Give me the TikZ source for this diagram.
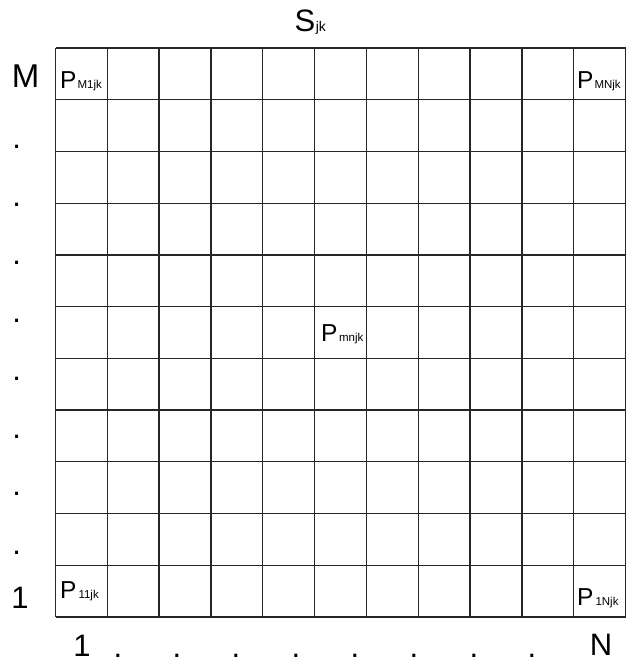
\documentclass[tikz,border=0pt]{standalone}
\usepackage{fontspec}
\setmainfont{Liberation Sans}
\begin{document}
\begin{tikzpicture}[x=1pt,y=-1pt,
  gridline/.style={line width=1.3pt,draw=black!85},
  biglab/.style={inner sep=0pt,anchor=base,font=\fontsize{31}{36}\selectfont},
  dotlab/.style={inner sep=0pt,anchor=base,font=\fontsize{31}{36}\selectfont},
  plab/.style={inner sep=0pt,anchor=base west,font=\fontsize{24.5}{28}\selectfont}]
\useasboundingbox (0,0) rectangle (634,662);
\newcommand{\subtxt}[1]{{\fontsize{11.5}{13}\selectfont #1}}
% grid
\foreach \i in {0,...,11}{
  \draw[gridline] ({55.5+\i*51.82},48) -- ({55.5+\i*51.82},617);
  \draw[gridline] (55.5,{48+\i*51.73}) -- (625.5,{48+\i*51.73});
}
% title
\node[inner sep=0pt,anchor=base west,font=\fontsize{31}{36}\selectfont] (S) at (294.5,31.7) {S\kern0.5pt{\fontsize{14}{16}\selectfont jk}};
% left labels
\node[biglab,font=\fontsize{33}{38}\selectfont] (M) at (25.7,87.3) {M};
\node[biglab] (one) at (20,608.3) {1};
\foreach \y [count=\k] in {148,206,264,322,380,438,495,554}{
  \node[dotlab] (ld\k) at (16.8,\y) {.};
}
% bottom labels
\node[biglab] (oneb) at (82,656.5) {1};
\node[biglab] (N) at (601,655.5) {N};
\foreach \x [count=\k] in {118,177,236,296,355,414,474,532}{
  \node[dotlab] (bd\k) at (\x,657) {.};
}
% cell labels
\node[plab] (pm1) at (60,88) {P\kern1pt\subtxt{M1jk}};
\node[plab] (pmn) at (577,88) {P\kern1pt\subtxt{MNjk}};
\node[plab] (p11) at (60,598) {P\kern2pt\subtxt{11jk}};
\node[plab] (p1n) at (577,605) {P\kern2pt\subtxt{1Njk}};
\node[plab] (pmid) at (321,341) {P\kern1.5pt\subtxt{mnjk}};
\end{tikzpicture}
\end{document}
